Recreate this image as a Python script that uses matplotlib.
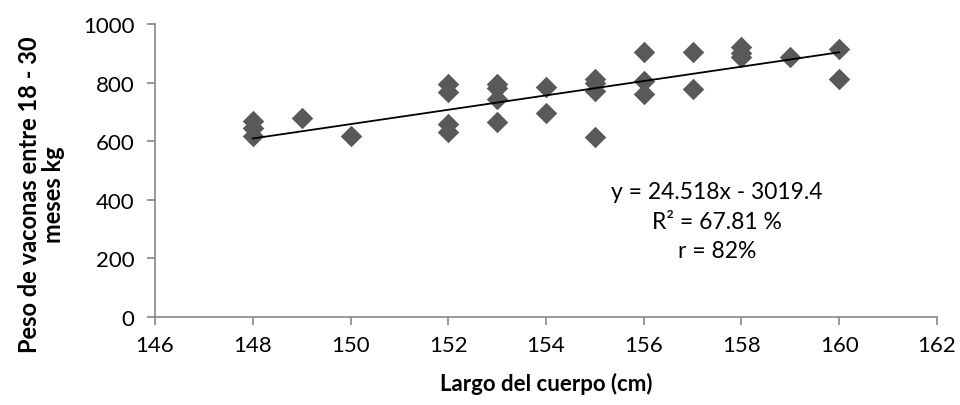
import matplotlib
matplotlib.use("Agg")
import matplotlib.pyplot as plt
import numpy as np

plt.rcParams['font.family'] = ['Lato', 'DejaVu Sans']

# largo del cuerpo (cm) y peso (kg)
largo = [148, 148, 148, 149, 150,
         152, 152, 152, 152, 153, 153, 153, 153,
         154, 154, 155, 155, 155, 155,
         156, 156, 156, 157, 157, 158, 158, 158, 159, 160, 160]
peso = [670, 645, 617, 680, 619,
        795, 767, 659, 630, 795, 780, 744, 667,
        784, 696, 812, 800, 772, 613,
        903, 807, 761, 903, 778, 920, 900, 886, 886, 915, 812]

pendiente = 24.518
intercepto = -3019.4
x_ticks = [146, 148, 150, 152, 154, 156, 158, 160, 162]
y_ticks = [0, 200, 400, 600, 800, 1000]

fig = plt.figure(figsize=(9.6, 4.06), dpi=100)
ax = fig.add_axes([0.1615, 0.2167, 0.8145, 0.7217])

ax.scatter(largo, peso, marker='D', s=120, color='#595959', zorder=3,
           linewidths=0)

xl = np.array([148, 160])
ax.plot(xl, pendiente * xl + intercepto, color='black', lw=1.3, zorder=4)

ax.set_xlim(146, 162)
ax.set_ylim(0, 1000)
ax.set_xticks(x_ticks)
ax.set_yticks(y_ticks)

for side in ['top', 'right']:
    ax.spines[side].set_visible(False)
for side in ['left', 'bottom']:
    ax.spines[side].set_color('#868686')
    ax.spines[side].set_linewidth(1.2)
ax.tick_params(axis='both', colors='#868686', length=6, width=1.2,
               labelsize=16, labelcolor='black')
ax.tick_params(axis='y', pad=9)
ax.tick_params(axis='x', pad=7)

ax.set_xlabel("Largo del cuerpo (cm)", fontsize=16, fontweight='bold',
              labelpad=12)
# y label as figure text so both lines are centred on each other
fig.text(0.043, 0.52, "Peso de vaconas entre 18 - 30\nmeses kg",
         rotation=90, ha='center', va='center', fontsize=17,
         fontweight='bold', linespacing=1.05, multialignment='center')

ax.text(157.5, 463, "y = 24.518x - 3019.4\nR² = 67.81 %\nr = 82%",
        ha='center', va='top', fontsize=16.5, linespacing=1.5,
        multialignment='center')

fig.savefig("out.png", dpi=100)
